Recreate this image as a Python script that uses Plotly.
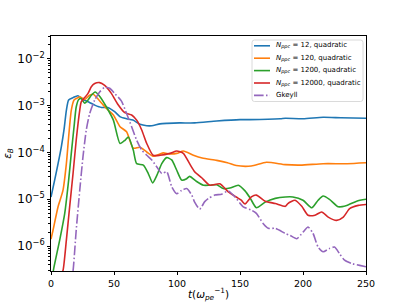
import plotly.graph_objects as go

# ---- data (values are log10 of epsilon_B) ----
t_blue = [0, 2.9, 5.6, 8.2, 10.3, 12.2, 14, 17.5, 21.4, 25.4, 29.4, 34.7, 40, 45, 50.5, 55, 60, 65, 70.6, 76, 80, 86.5, 92, 102, 114, 131.5, 150, 158, 182, 186, 200, 216, 230, 250]
ly_blue = [-4.95, -4.59, -4.24, -3.88, -3.52, -3.10, -2.88, -2.83, -2.79, -2.87, -2.92, -2.99, -3.04, -3.04, -3.13, -3.24, -3.28, -3.31, -3.40, -3.43, -3.43, -3.39, -3.38, -3.37, -3.37, -3.33, -3.30, -3.30, -3.28, -3.27, -3.28, -3.25, -3.26, -3.27]

t_orange = [0, 1.6, 5.6, 9.5, 12.2, 14, 16.1, 18.3, 21.4, 22.8, 26.7, 30.7, 33.5, 38, 41.5, 45.5, 49.5, 54.8, 60, 65.3, 70.6, 76, 81, 89, 94, 99.8, 105, 113, 120, 131.5, 140, 147, 159, 171, 186, 198, 216, 235, 250]
ly_orange = [-5.85, -5.66, -5.16, -4.81, -4.24, -3.67, -3.10, -2.88, -2.83, -2.81, -2.87, -2.78, -2.76, -2.88, -2.99, -3.10, -3.20, -3.45, -3.56, -3.91, -3.89, -3.99, -4.08, -4.01, -4.03, -4.02, -3.97, -4.06, -4.12, -4.17, -4.22, -4.28, -4.29, -4.21, -4.26, -4.27, -4.24, -4.24, -4.22]

t_green = [1.8, 2.4, 6.9, 10.9, 14, 16.1, 18.3, 20, 22, 24, 26.7, 29.4, 32, 35, 38.9, 44, 49.5, 54.8, 58.7, 61.4, 65.3, 68, 73.3, 77.2, 80.7, 84, 87.9, 91.8, 95.8, 99.8, 103.7, 107.7, 110, 115.6, 121, 126, 131.5, 136.7, 142, 148.7, 154, 158, 163, 170, 178, 186, 192, 200, 207, 212, 216, 221, 228, 234.7, 242.6, 250]
ly_green = [-6.53, -6.44, -5.87, -5.30, -4.59, -4.02, -3.45, -3.03, -2.87, -2.85, -2.95, -2.88, -2.78, -2.71, -2.81, -3.03, -3.31, -3.81, -3.74, -3.67, -3.95, -4.24, -4.27, -4.45, -4.65, -4.49, -4.24, -4.11, -4.16, -4.38, -4.59, -4.56, -4.51, -4.62, -4.70, -4.70, -4.69, -4.77, -4.76, -4.70, -4.82, -4.97, -5.18, -5.06, -4.98, -4.95, -4.95, -5.02, -5.18, -5.02, -4.93, -5.00, -5.16, -5.13, -5.04, -5.00]

t_red = [9.0, 9.5, 12.2, 14.8, 17.5, 20, 22.8, 24, 26.7, 29.4, 32, 34.7, 38.6, 42.6, 47.9, 53, 58.5, 64, 68, 72, 76, 81, 86.5, 94.4, 99.8, 105, 110, 114, 119.6, 126, 134, 140.7, 147, 151, 154, 159, 163, 170, 178, 186, 188, 193.7, 199, 204, 209.5, 214.8, 220, 226.7, 232, 237, 243.9, 250]
ly_red = [-6.53, -6.52, -5.87, -5.16, -4.45, -3.74, -3.10, -2.92, -2.83, -2.74, -2.60, -2.53, -2.51, -2.57, -2.74, -2.97, -3.15, -3.20, -3.31, -3.52, -3.81, -4.06, -4.06, -4.02, -3.97, -4.02, -4.24, -4.41, -4.54, -4.70, -4.67, -4.84, -4.95, -5.02, -5.10, -4.95, -4.91, -5.04, -5.09, -5.15, -5.09, -5.02, -5.15, -5.34, -5.34, -5.27, -5.38, -5.45, -5.38, -5.20, -5.13, -5.11]

t_purple = [17.3, 17.5, 20, 22.8, 25.4, 28, 30.7, 34.7, 38.6, 42.6, 46.6, 50.5, 55.8, 60, 64, 68, 72, 76, 80, 84, 88, 91.8, 95.8, 99.8, 103.7, 107.7, 111.7, 114, 118, 122, 125, 130, 135.5, 140.7, 146, 152.6, 159, 163, 168.5, 172.5, 178, 186, 189.7, 195, 200, 204, 208, 212, 216, 221, 225, 229, 233, 238.6, 245, 250]
ly_purple = [-6.53, -6.52, -5.66, -4.81, -4.09, -3.52, -3.17, -2.88, -2.71, -2.61, -2.63, -2.74, -2.90, -3.17, -3.45, -3.74, -3.95, -4.06, -4.16, -4.31, -4.45, -4.41, -4.73, -4.88, -4.81, -4.77, -4.91, -5.06, -5.21, -5.05, -4.98, -4.91, -4.89, -4.82, -4.95, -5.16, -5.23, -5.30, -5.52, -5.62, -5.62, -5.73, -5.77, -5.84, -5.70, -5.59, -5.73, -6.02, -6.12, -6.05, -6.02, -6.16, -6.30, -6.37, -6.41, -6.44]

names = [
    "<i>N<sub>ppc</sub></i> = 12, quadratic",
    "<i>N<sub>ppc</sub></i> = 120, quadratic",
    "<i>N<sub>ppc</sub></i> = 1200, quadratic",
    "<i>N<sub>ppc</sub></i> = 12000, quadratic",
    "Gkeyll",
]
colors = ["#1f77b4", "#ff7f0e", "#2ca02c", "#d62728", "#9467bd"]
series = [(t_blue, ly_blue), (t_orange, ly_orange), (t_green, ly_green), (t_red, ly_red), (t_purple, ly_purple)]
DASHDOT = "9.6px,2.4px,1.5px,2.4px"

W, H = 407, 305
ML, MR, MT, MB = 51, 41, 36, 34
PW, PH = W - ML - MR, H - MT - MB


def px(x):  # page pixel -> paper fraction
    return (x - ML) / PW


def py(y):
    return (H - MB - y) / PH


fig = go.Figure()
for (tx, ly), name, c in zip(series, names, colors):
    dash = DASHDOT if name == "Gkeyll" else "solid"
    fig.add_trace(go.Scatter(
        x=tx, y=[10 ** v for v in ly], mode="lines", name=name, showlegend=False,
        line=dict(color=c, width=1.6, dash=dash, shape="spline", smoothing=0.6),
    ))

# ---- legend drawn as a matplotlib-style box ----
bx0, bx1, by0, by1, r = 252, 363, 40, 101.5, 2.5
rx, ry = r / PW, r / PH
X0, X1, Y0, Y1 = px(bx0), px(bx1), py(by1), py(by0)
path = (f"M {X0+rx},{Y0} L {X1-rx},{Y0} Q {X1},{Y0} {X1},{Y0+ry} L {X1},{Y1-ry} "
        f"Q {X1},{Y1} {X1-rx},{Y1} L {X0+rx},{Y1} Q {X0},{Y1} {X0},{Y1-ry} "
        f"L {X0},{Y0+ry} Q {X0},{Y0} {X0+rx},{Y0} Z")
fig.add_shape(type="path", path=path, xref="paper", yref="paper",
              fillcolor="rgba(255,255,255,0.8)", line=dict(color="#d0d0d0", width=0.8))
rows = [45.8, 58.2, 70.6, 83.0, 95.4]
for name, c, yy in zip(names, colors, rows):
    dash = DASHDOT if name == "Gkeyll" else "solid"
    fig.add_shape(type="line", xref="paper", yref="paper",
                  x0=px(254), x1=px(270), y0=py(yy), y1=py(yy),
                  line=dict(color=c, width=1.6, dash=dash))
    fig.add_annotation(text=name, xref="paper", yref="paper", x=px(274), y=py(yy),
                       xanchor="left", yanchor="middle", showarrow=False,
                       font=dict(family="DejaVu Sans", size=7, color="black"))

axis_common = dict(
    showline=True, linecolor="black", linewidth=0.8, mirror=True,
    ticks="outside", ticklen=3.5, tickwidth=0.8, tickcolor="black",
    showgrid=False, zeroline=False, automargin=False,
    tickfont=dict(family="DejaVu Sans", size=9.5, color="black"),
)

fig.update_layout(
    width=W, height=H,
    margin=dict(l=ML, r=MR, t=MT, b=MB, autoexpand=False),
    paper_bgcolor="white", plot_bgcolor="white",
    font=dict(family="DejaVu Sans", color="black"),
    showlegend=False,
    xaxis=dict(range=[0, 250], tickvals=[0, 50, 100, 150, 200, 250],
               title=dict(text="<i>t</i>(<i>ω<sub>pe</sub></i><sup>−1</sup>)", standoff=2,
                          font=dict(size=10.5)),
               **axis_common),
    yaxis=dict(type="log", range=[-6.53, -1.515], dtick=1, exponentformat="power",
               showexponent="all",
               minor=dict(ticks="outside", ticklen=2, tickwidth=0.6, tickcolor="black",
                          dtick="D1", showgrid=False),
               title=dict(text="<i>ε<sub>B</sub></i>", standoff=3, font=dict(size=10.5)),
               **axis_common),
)

# remove the browser's default 8px page margin so the 407x305 figure fills the window
fig.write_html("out.html", post_script="document.body.style.margin='0px';",
               config={"displayModeBar": False})
